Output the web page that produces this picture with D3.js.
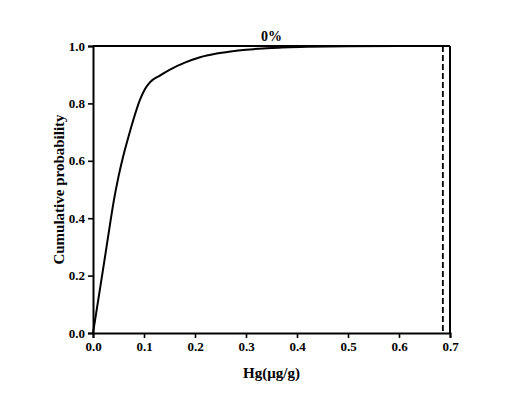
<!DOCTYPE html>
<html><head><meta charset="utf-8">
<script src="https://cdn.jsdelivr.net/npm/d3@7"></script>
<style>body{margin:0;background:#fff}svg{display:block}text{font-family:"Liberation Serif","Times New Roman",serif;font-weight:bold;fill:#000}</style>
</head><body><svg id="c" width="524" height="401"></svg>
<script>
const hgValues = [0,0.01,0.02,0.03,0.041,0.05,0.059,0.069,0.079,0.092,0.102,0.112,0.131,0.151,0.18,0.21,0.24,0.27,0.3,0.34,0.37,0.42,0.5,0.6,0.686];
const cumProb  = [0,0.112,0.225,0.34,0.463,0.545,0.614,0.68,0.742,0.812,0.85,0.874,0.897,0.918,0.942,0.961,0.973,0.981,0.987,0.992,0.995,0.997,0.999,1.0,1.0];
const xTicks = [0,0.1,0.2,0.3,0.4,0.5,0.6,0.7];
const yTicks = [0,0.2,0.4,0.6,0.8,1.0];
const cutoff = [0.686];
const titleText = "0%";
const xLabel = "Hg(μg/g)";
const yLabel = "Cumulative probability";

const svg = d3.select("#c");
const m = {l:93, r:450, t:46, b:333};
const x = d3.scaleLinear().domain([0,0.7]).range([m.l,m.r]);
const y = d3.scaleLinear().domain([0,1]).range([m.b,m.t]);

const xa = svg.append("g").attr("transform",`translate(0,${m.b})`)
  .call(d3.axisBottom(x).tickValues(xTicks).tickFormat(d3.format(".1f")).tickSizeOuter(0).tickSize(5).tickPadding(4));
const ya = svg.append("g").attr("transform",`translate(${m.l},0)`)
  .call(d3.axisLeft(y).tickValues(yTicks).tickFormat(d3.format(".1f")).tickSizeOuter(0).tickSize(5).tickPadding(3));
[xa,ya].forEach(a=>{
  a.select(".domain").attr("stroke","#000").attr("stroke-width",2);
  a.selectAll(".tick line").attr("stroke","#000").attr("stroke-width",1.6);
  a.selectAll("text").style("font-size","13px").style("font-family","Liberation Serif").style("font-weight","bold");
});
svg.append("line").attr("x1",m.l).attr("x2",m.r).attr("y1",m.t).attr("y2",m.t).attr("stroke","#000").attr("stroke-width",2.2);
svg.append("line").attr("x1",m.r).attr("x2",m.r).attr("y1",m.t).attr("y2",m.b).attr("stroke","#000").attr("stroke-width",2);

const pts = hgValues.map((v,i)=>[v,cumProb[i]]);
svg.append("path").datum(pts)
  .attr("d", d3.line().x(d=>x(d[0])).y(d=>y(d[1])).curve(d3.curveMonotoneX))
  .attr("fill","none").attr("stroke","#000").attr("stroke-width",2);

svg.selectAll(".cut").data(cutoff).enter().append("line")
  .attr("x1",d=>x(d)).attr("x2",d=>x(d)).attr("y1",y(1)).attr("y2",y(0))
  .attr("stroke","#000").attr("stroke-width",1.8).attr("stroke-dasharray","6,3");

svg.append("text").attr("x",(m.l+m.r)/2).attr("y",41).attr("text-anchor","middle").style("font-size","14px").text(titleText);
svg.append("text").attr("x",(m.l+m.r)/2).attr("y",378).attr("text-anchor","middle").style("font-size","15px").text(xLabel);
svg.append("text").attr("transform",`translate(64,${(m.t+m.b)/2}) rotate(-90)`).attr("text-anchor","middle").style("font-size","15px").text(yLabel);
</script></body></html>
